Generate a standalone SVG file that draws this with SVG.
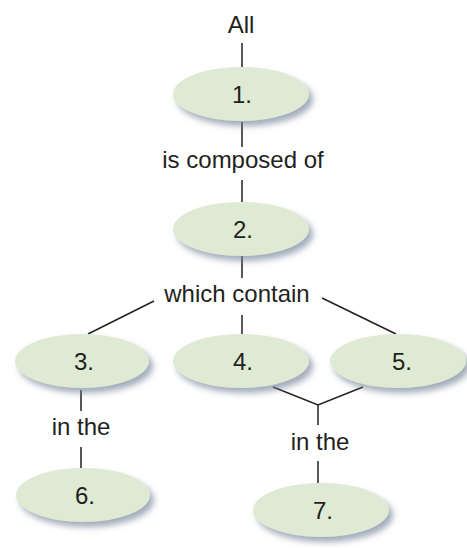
<svg xmlns="http://www.w3.org/2000/svg" width="467" height="548" viewBox="0 0 467 548">
<defs>
<filter id="sh" x="-20%" y="-30%" width="150%" height="180%">
<feGaussianBlur in="SourceAlpha" stdDeviation="3"/>
<feOffset dx="4" dy="5" result="b"/>
<feFlood flood-color="#6f7f95" flood-opacity="0.65"/>
<feComposite in2="b" operator="in"/>
<feMerge><feMergeNode/><feMergeNode in="SourceGraphic"/></feMerge>
</filter>
</defs>
<style>
.n{fill:#dfead4;filter:url(#sh)}
text{font-family:"Liberation Sans",Arial,sans-serif;font-size:24px;fill:#231f20;text-anchor:middle}
.c line,.c polyline{stroke:#231f20;stroke-width:1.5;fill:none}
</style>
<rect width="467" height="548" fill="#ffffff"/>
<g class="c" id="connectors">
<line x1="242" y1="43" x2="242" y2="67"/>
<line x1="242" y1="122" x2="242" y2="147"/>
<line x1="242" y1="180" x2="242" y2="202"/>
<line x1="242" y1="256" x2="242" y2="278"/>
<line x1="154" y1="301" x2="88" y2="334"/>
<line x1="242" y1="315" x2="242" y2="334"/>
<line x1="322" y1="298" x2="396" y2="334"/>
<line x1="81" y1="390" x2="81" y2="411"/>
<line x1="81" y1="447" x2="81" y2="468"/>
<polyline points="273,387 318,405 363,387"/>
<line x1="318" y1="405" x2="318" y2="425"/>
<line x1="318" y1="461" x2="318" y2="483"/>
</g>
<g id="label-all"><text x="241" y="33">All</text></g>
<g id="label-composed"><text x="243" y="168">is composed of</text></g>
<g id="label-contain"><text x="237" y="302">which contain</text></g>
<g id="label-inthe-left"><text x="81" y="435">in the</text></g>
<g id="label-inthe-right"><text x="320" y="450">in the</text></g>
<g id="node1"><ellipse class="n" cx="241" cy="94" rx="68" ry="27"/><text x="242" y="103">1.</text></g>
<g id="node2"><ellipse class="n" cx="241" cy="229" rx="68" ry="27"/><text x="243" y="238">2.</text></g>
<g id="node3"><ellipse class="n" cx="82" cy="361" rx="67" ry="27"/><text x="84" y="370">3.</text></g>
<g id="node4"><ellipse class="n" cx="241" cy="361" rx="68" ry="27"/><text x="243" y="370">4.</text></g>
<g id="node5"><ellipse class="n" cx="398" cy="361" rx="68" ry="27"/><text x="402" y="370">5.</text></g>
<g id="node6"><ellipse class="n" cx="83" cy="495" rx="67" ry="27"/><text x="85" y="504">6.</text></g>
<g id="node7"><ellipse class="n" cx="321" cy="510" rx="68" ry="27"/><text x="323" y="519">7.</text></g>
</svg>
